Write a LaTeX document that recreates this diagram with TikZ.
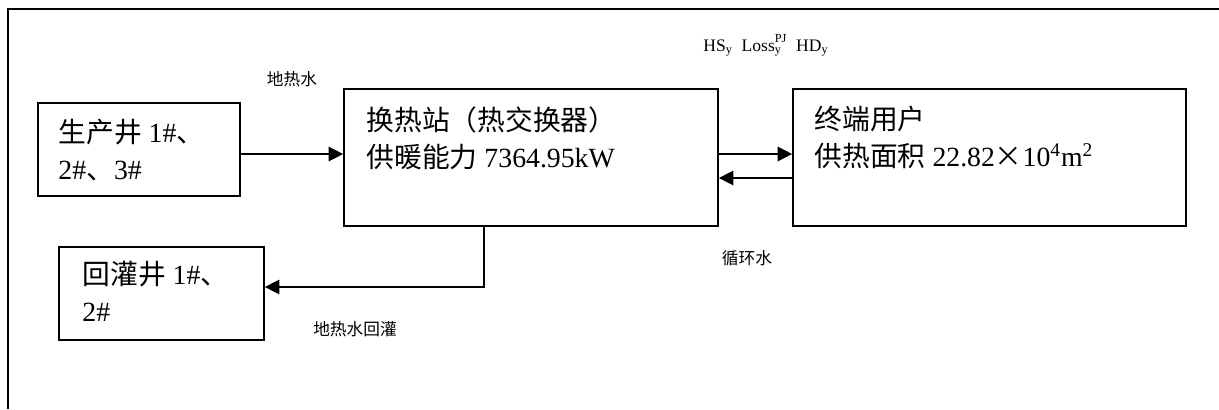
\documentclass[tikz,border=0pt]{standalone}
\usepackage{fontspec}
\setmainfont{Liberation Serif}
\newfontfamily\cjk{Noto Sans CJK SC}
\usepackage{tikz}
\usetikzlibrary{positioning,arrows.meta}
\tikzset{
  flowbox/.style={draw, line width=1pt, inner sep=0pt},
  boxtext/.style={anchor=base west, align=left, inner sep=0pt, font=\fontsize{15.8}{21}\selectfont},
  flowlabel/.style={inner sep=0pt, font=\fontsize{9.5}{11}\selectfont},
  flowarrow/.style={line width=0.8pt, -{Triangle[length=0.29cm, width=0.29cm]}},
  frameline/.style={line width=1pt}
}
\newcommand{\zh}[1]{{\cjk #1}}

\begin{document}
\begin{tikzpicture}[x=0.02cm, y=-0.02cm]
  \useasboundingbox (0,0) rectangle (1219,409);
  \draw[frameline] (8,409) -- (8,9) -- (1219,9);

  \node[flowbox, minimum width=4.04cm, minimum height=1.86cm] (prodwell) at (139,149.5) {};
  \node[flowbox, minimum width=7.48cm, minimum height=2.74cm] (station) at (531,157.5) {};
  \node[flowbox, minimum width=7.86cm, minimum height=2.74cm] (enduser) at (989.5,157.5) {};
  \node[flowbox, minimum width=4.10cm, minimum height=1.86cm] (reinjwell) at (161.5,293.5) {};

  % base anchor sits on the last line
  \node[boxtext] (prodwelltxt) at ([shift={(21,77)}]prodwell.north west) {\zh{生产井} 1\#\zh{、}\\2\#\zh{、}3\#};
  \node[boxtext] (stationtxt) at ([shift={(23,79)}]station.north west) {\zh{换热站（热交换器）}\\\zh{供暖能力} 7364.95kW};
  \node[boxtext] (endusertxt) at ([shift={(22,78)}]enduser.north west) {\zh{终端用户}\\\zh{供热面积} 22.82\zh{×}10\textsuperscript{4}m\textsuperscript{2}};
  \node[boxtext] (reinjwelltxt) at ([shift={(24,75)}]reinjwell.north west) {\zh{回灌井} 1\#\zh{、}\\2\#};

  \coordinate (bend) at (484,287);

  \draw[flowarrow] ([yshift=-0.09cm]prodwell.east) -- ([yshift=-0.09cm]prodwell.east -| station.west);
  \draw[flowarrow] ([yshift=0.07cm]station.east) -- ([yshift=0.07cm]station.east -| enduser.west);
  \draw[flowarrow] ([yshift=-0.41cm]enduser.west) -- ([yshift=-0.41cm]enduser.west -| station.east);
  \draw[flowarrow] (station.south -| bend) -- (bend) -- (bend -| reinjwell.east);

  \node[flowlabel] (hotwater) at (292,79) {\zh{地热水}};
  \node[flowlabel] (reinject) at (355,329) {\zh{地热水回灌}};
  \node[flowlabel] (circwater) at (747,258) {\zh{循环水}};
  \node[flowlabel, anchor=base, font=\fontsize{10}{11}\selectfont] (heatterms) at (766,51) {HS\textsubscript{y}\ \ Loss\rlap{\textsubscript{y}}\raisebox{0.25ex}{\textsuperscript{PJ}}\ \ HD\textsubscript{y}};
\end{tikzpicture}
\end{document}
